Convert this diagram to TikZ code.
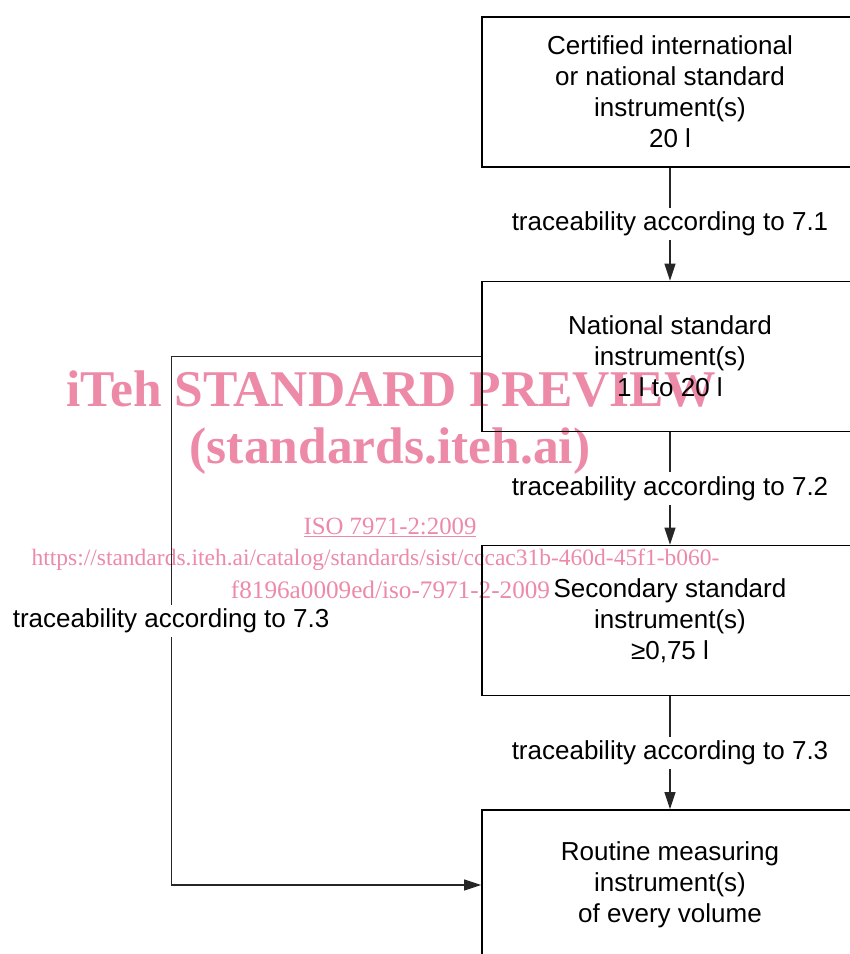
\documentclass[tikz,border=0pt]{standalone}
\usepackage{fontspec}
\setmainfont{Liberation Sans}
\newfontfamily\wmfont{Liberation Serif}
\usetikzlibrary{arrows.meta}
\definecolor{wmpink}{RGB}{236,138,168}
\begin{document}
\begin{tikzpicture}[x=1pt,y=-1pt,
  box/.style={draw=black, line width=1.8pt, minimum width=376pt, minimum height=150pt,
    align=center, inner sep=0pt, font=\fontsize{26}{31}\selectfont},
  link/.style={draw=black!85, line width=1.2pt, -{Triangle[length=17pt,width=11pt]}},
  tag/.style={fill=white, inner sep=4pt, font=\fontsize{26}{31}\selectfont},
  wmbig/.style={text=wmpink, inner sep=0pt, font=\wmfont\bfseries\fontsize{51.5}{60}\selectfont},
  wmsmall/.style={text=wmpink, inner sep=0pt}]
\useasboundingbox (0,0) rectangle (850,954);
\clip (0,0) rectangle (850,954);

% instrument hierarchy
\node[box] (cert) at (670,92)    {Certified international\\or national standard\\instrument(s)\\20 l};
\node[box] (nat)  at (670,356.5) {National standard\\instrument(s)\\1 l to 20 l};
\node[box] (sec)  at (670,620.5) {Secondary standard\\instrument(s)\\≥0,75 l};
\node[box] (rout) at (670,885)   {Routine measuring\\instrument(s)\\of every volume};

% traceability links
\draw[link] (cert) -- node[tag] {traceability according to 7.1} (nat);
\draw[link] (nat)  -- node[tag] {traceability according to 7.2} (sec);
\draw[link] (sec)  -- node[tag] {traceability according to 7.3} (rout);
\draw[link] (nat.west) -- ++(-310,0) |- node[tag, pos=0.25] {traceability according to 7.3} (rout.west);

% publisher stamp
\begin{scope}[blend mode=multiply]
\node[wmbig] (wm1) at (391,389) {iTeh STANDARD PREVIEW};
\node[wmbig] (wm2) at (390,451) {(standards.iteh.ai)};
\node[wmsmall, font=\wmfont\fontsize{24.8}{30}\selectfont] (wm3) at (390,527) {\underline{ISO 7971-2:2009}};
\node[wmsmall, font=\wmfont\fontsize{23.5}{30}\selectfont] (wm4) at (375.5,560) {https://standards.iteh.ai/catalog/standards/sist/cccac31b-460d-45f1-b060-};
\node[wmsmall, font=\wmfont\fontsize{25.2}{30}\selectfont] (wm5) at (390.5,590) {f8196a0009ed/iso-7971-2-2009};
\end{scope}
\end{tikzpicture}
\end{document}
